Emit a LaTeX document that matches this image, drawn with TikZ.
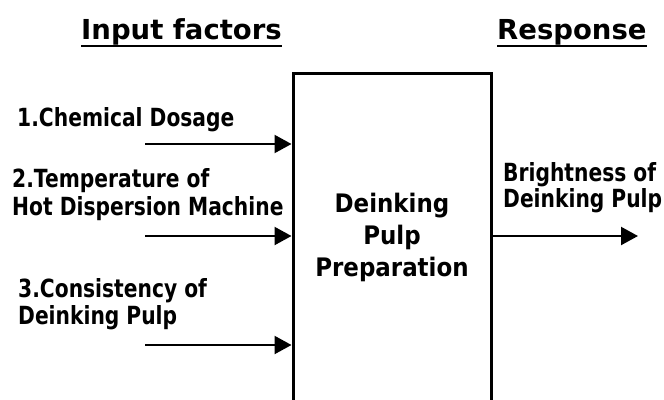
\documentclass[tikz,border=0pt]{standalone}
\usepackage{fontspec}
\newfontfamily\diagfont{DejaVu Sans}[FakeStretch=0.81]
\newfontfamily\procfont{DejaVu Sans}[FakeStretch=0.9]
\newfontfamily\headfont{DejaVu Sans}
\usetikzlibrary{arrows.meta, positioning}
\tikzset{>={Triangle[length=17pt,width=18pt]}}

\begin{document}
\begin{tikzpicture}[x=1pt, y=1pt, font=\diagfont\bfseries]
			\useasboundingbox (0,0) rectangle (664,-399);
			\tikzset{
				heading/.style={inner sep=0pt, anchor=base west, font=\headfont\bfseries\fontsize{27.5}{27.5}\selectfont},
				factor/.style={inner sep=0pt, anchor=base west, align=left},
				feed/.style={line width=2.2pt, ->}
			}
			% headings
			\node[heading] (hin) at (81,-39) {Input factors};
			\node[heading] (hout) at (497,-39) {Response};
			\draw [line width=2.5pt] ([yshift=-7pt]hin.base west) -- ([yshift=-7pt]hin.base east);
			\draw [line width=2.5pt] ([yshift=-7pt]hout.base west) -- ([yshift=-7pt]hout.base east);
			% process box, open at the bottom of the page
			\node[draw, line width=3pt, minimum width=198pt, minimum height=360pt, anchor=north, inner sep=0pt] (box) at (392,-72) {};
			\node[align=center, inner sep=0pt, anchor=base, font=\procfont\bfseries\fontsize{25.5}{32}\selectfont] (proc) at (392,-276) {Deinking\\Pulp\\Preparation};
			% input factors (base anchor sits on the last line)
			\node[factor, font=\diagfont\bfseries\fontsize{25}{28}\selectfont] (f1) at (17,-126) {1.Chemical Dosage};
			\node[factor, font=\diagfont\bfseries\fontsize{25}{28}\selectfont] (f2) at (12,-215) {2.Temperature of\\Hot Dispersion Machine};
			\node[factor, font=\diagfont\bfseries\fontsize{25}{27}\selectfont] (f3) at (18,-324) {3.Consistency of\\Deinking Pulp};
			\node[factor, font=\diagfont\bfseries\fontsize{25}{25.5}\selectfont] (resp) at (503,-207) {Brightness of\\Deinking Pulp};
			\coordinate (s1) at (145,-144);
			\coordinate (s2) at (145,-236);
			\coordinate (s3) at (145,-345);
			\coordinate (e4) at (638,-236);
			\draw [feed] (s1) -- (box.west |- s1);
			\draw [feed] (s2) -- (box.west |- s2);
			\draw [feed] (s3) -- (box.west |- s3);
			\draw [feed] (box.east |- e4) -- (e4);
		\end{tikzpicture}
\end{document}
